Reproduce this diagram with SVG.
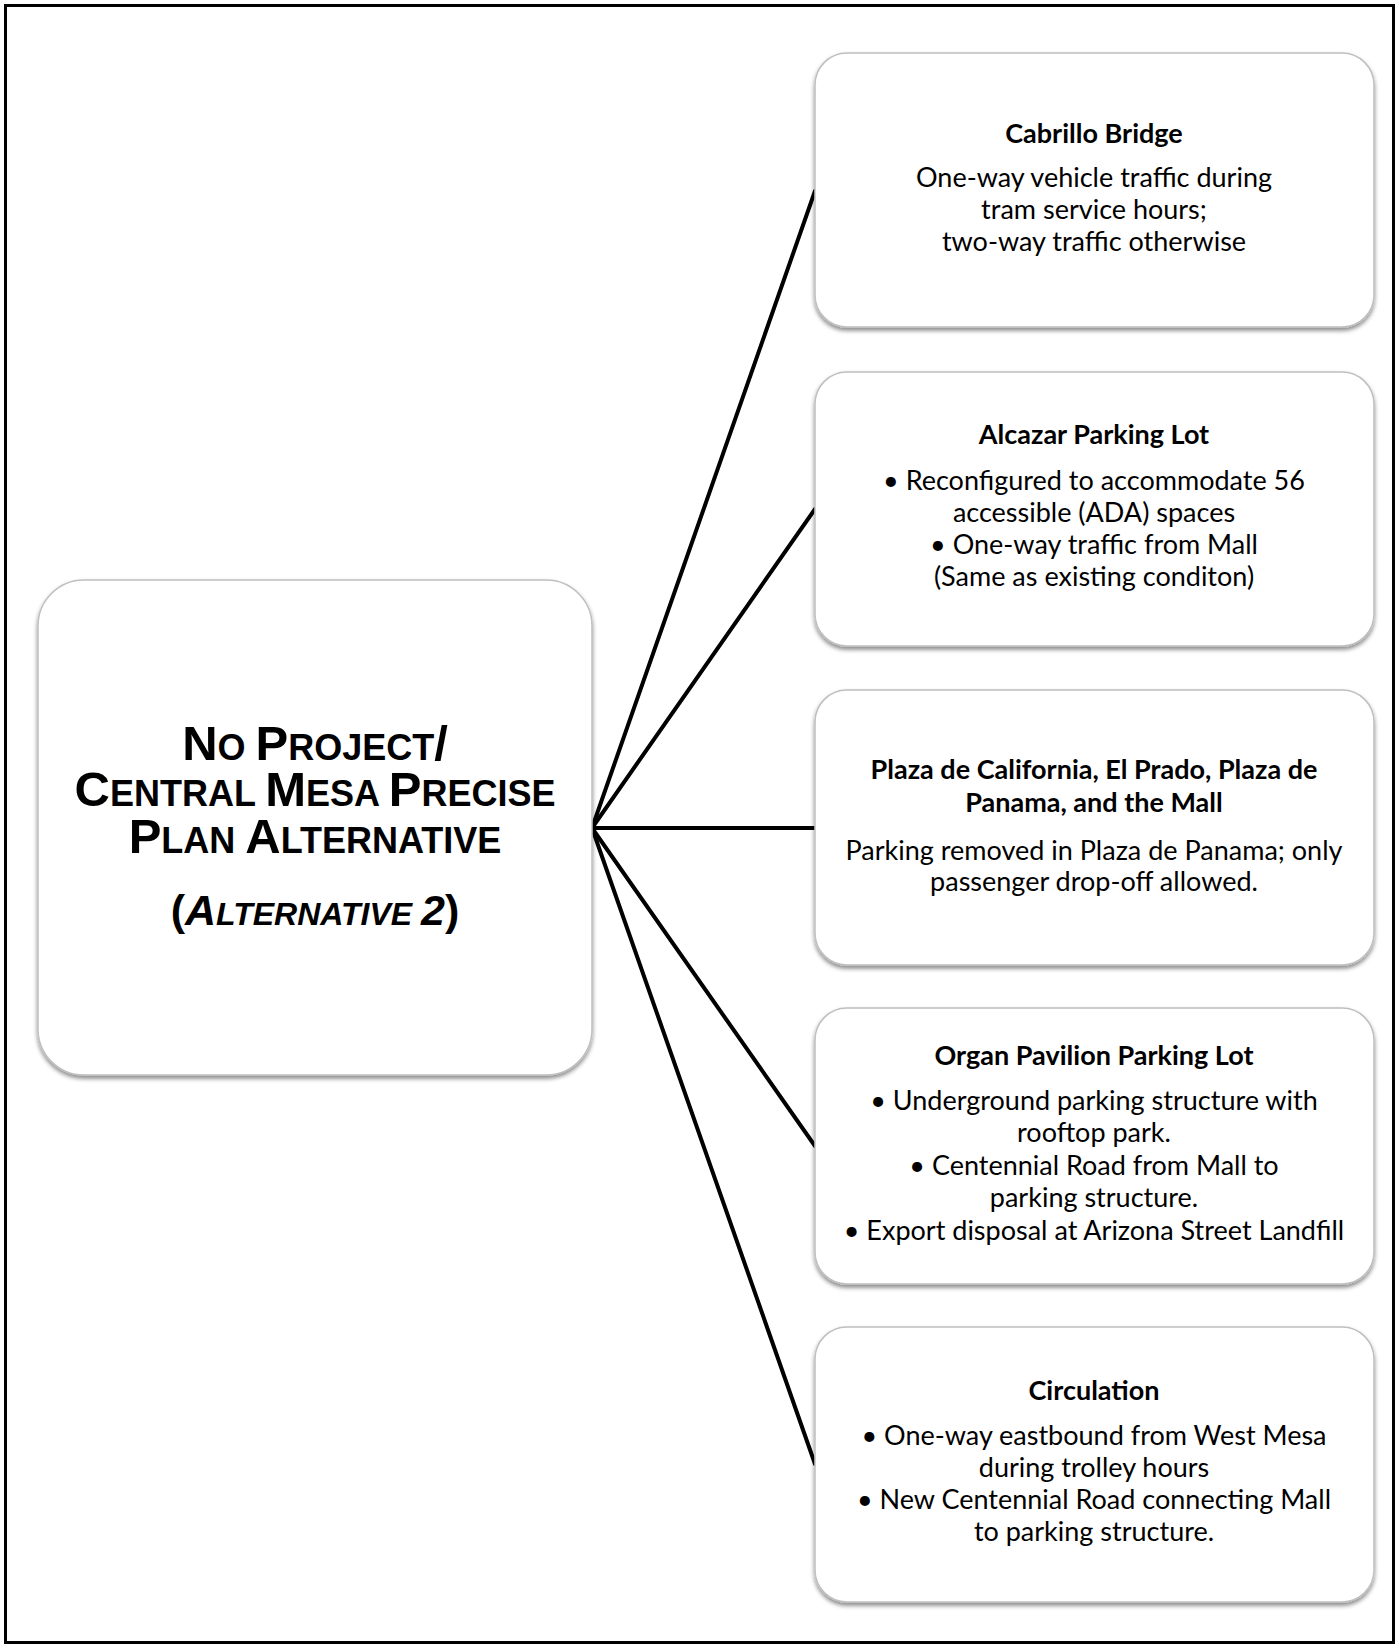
<svg xmlns="http://www.w3.org/2000/svg" width="1400" height="1646" viewBox="0 0 1400 1646">
<defs>
<filter id="sh" x="-5%" y="-5%" width="110%" height="115%">
<feDropShadow dx="0" dy="3" stdDeviation="2" flood-color="#000" flood-opacity="0.45"/>
</filter>
<style>
.box{fill:#fff;stroke:#bfbfbf;stroke-width:1.5;filter:url(#sh)}
.t{font-family:Lato,"Open Sans","Liberation Sans",sans-serif;font-size:27px;fill:#000;text-anchor:middle}
.b{font-weight:bold}
.m{font-family:"Liberation Sans",Arial,sans-serif;font-weight:bold;fill:#000;text-anchor:middle}
.big{font-size:49px}
.sm{font-size:36px}
.big2{font-size:43px}
.sm2{font-size:32px}
.con{stroke:#000;stroke-width:4;fill:none;stroke-linecap:round}
</style>
</defs>
<rect x="0" y="0" width="1400" height="1646" fill="#fff"/>
<rect x="5.5" y="5.5" width="1388" height="1637" fill="none" stroke="#000" stroke-width="3"/>

<g id="connectors">
<line class="con" x1="592" y1="828" x2="815" y2="191"/>
<line class="con" x1="592" y1="828" x2="815" y2="509"/>
<line class="con" x1="592" y1="828" x2="815" y2="828"/>
<line class="con" x1="592" y1="828" x2="815" y2="1146"/>
<line class="con" x1="592" y1="828" x2="815" y2="1464"/>
</g>

<g id="main">
<rect class="box" x="38" y="580" width="554" height="495" rx="46" ry="46"/>
<text class="m" x="315" y="760"><tspan class="big">N</tspan><tspan class="sm">O </tspan><tspan class="big">P</tspan><tspan class="sm">ROJECT</tspan><tspan class="big">/</tspan></text>
<text class="m" x="315" y="806"><tspan class="big">C</tspan><tspan class="sm">ENTRAL </tspan><tspan class="big">M</tspan><tspan class="sm">ESA </tspan><tspan class="big">P</tspan><tspan class="sm">RECISE</tspan></text>
<text class="m" x="315" y="853"><tspan class="big">P</tspan><tspan class="sm">LAN </tspan><tspan class="big">A</tspan><tspan class="sm">LTERNATIVE</tspan></text>
<text class="m" x="315" y="925"><tspan class="big2">(</tspan><tspan class="big2" font-style="italic">A</tspan><tspan class="sm2" font-style="italic">LTERNATIVE </tspan><tspan class="big2" font-style="italic">2</tspan><tspan class="big2">)</tspan></text>
</g>

<g id="cabrillo">
<rect class="box" x="815" y="53" width="559" height="274" rx="32" ry="32"/>
<text class="t b" x="1094" y="143">Cabrillo Bridge</text>
<text class="t" x="1094" y="187">One-way vehicle traffic during</text>
<text class="t" x="1094" y="219">tram service hours;</text>
<text class="t" x="1094" y="251">two-way traffic otherwise</text>
</g>

<g id="alcazar">
<rect class="box" x="815" y="372" width="559" height="274" rx="32" ry="32"/>
<text class="t b" x="1094" y="444">Alcazar Parking Lot</text>
<text class="t" x="1094" y="490">• Reconfigured to accommodate 56</text>
<text class="t" x="1094" y="522">accessible (ADA) spaces</text>
<text class="t" x="1094" y="554">• One-way traffic from Mall</text>
<text class="t" x="1094" y="586">(Same as existing conditon)</text>
</g>

<g id="plaza">
<rect class="box" x="815" y="690" width="559" height="275" rx="32" ry="32"/>
<text class="t b" x="1094" y="779">Plaza de California, El Prado, Plaza de</text>
<text class="t b" x="1094" y="812">Panama, and the Mall</text>
<text class="t" x="1094" y="860">Parking removed in Plaza de Panama; only</text>
<text class="t" x="1094" y="891">passenger drop-off allowed.</text>
</g>

<g id="organ">
<rect class="box" x="815" y="1008" width="559" height="276" rx="32" ry="32"/>
<text class="t b" x="1094" y="1065">Organ Pavilion Parking Lot</text>
<text class="t" x="1094" y="1110">• Underground parking structure with</text>
<text class="t" x="1094" y="1142">rooftop park.</text>
<text class="t" x="1094" y="1175">• Centennial Road from Mall to</text>
<text class="t" x="1094" y="1207">parking structure.</text>
<text class="t" x="1094" y="1240">• Export disposal at Arizona Street Landfill</text>
</g>

<g id="circulation">
<rect class="box" x="815" y="1327" width="559" height="275" rx="32" ry="32"/>
<text class="t b" x="1094" y="1400">Circulation</text>
<text class="t" x="1094" y="1445">• One-way eastbound from West Mesa</text>
<text class="t" x="1094" y="1477">during trolley hours</text>
<text class="t" x="1094" y="1509">• New Centennial Road connecting Mall</text>
<text class="t" x="1094" y="1541">to parking structure.</text>
</g>
</svg>
